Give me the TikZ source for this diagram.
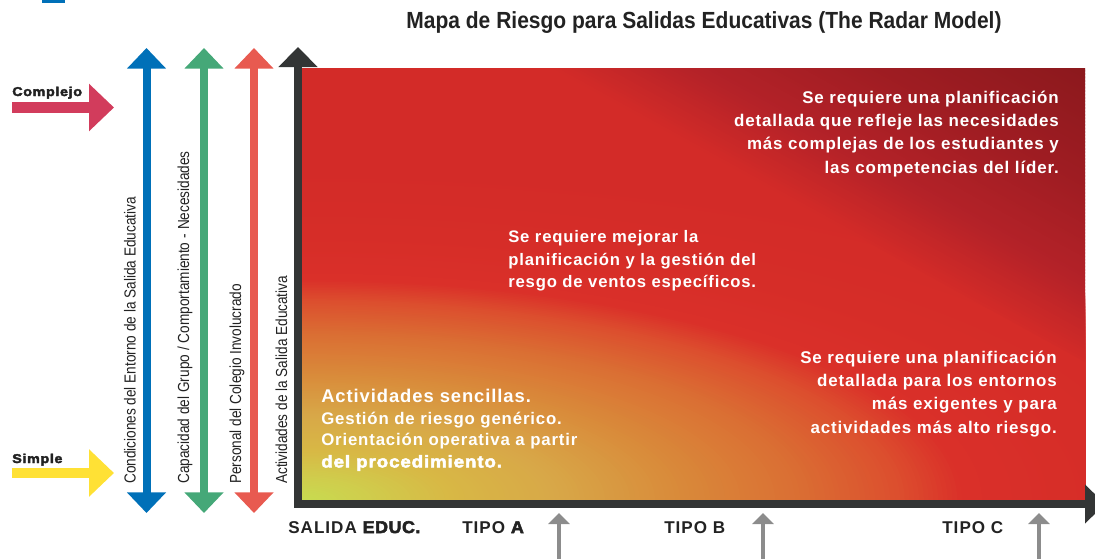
\documentclass[tikz,border=0pt]{standalone}
\usepackage{fontspec}
\setmainfont{Liberation Sans}
\newfontfamily\condfont{Liberation Sans}[FakeStretch=0.85]
\newfontfamily\titlefont{Liberation Sans Bold}[FakeStretch=0.9]
\newfontfamily\heavyfont{Liberation Sans Bold}[FakeBold=3, FakeStretch=1.12, LetterSpace=5]
\newfontfamily\wfont{Liberation Sans Bold}[LetterSpace=5]
\newfontfamily\lblfont{Liberation Sans Bold}[LetterSpace=6]
\newfontfamily\lblheavy{Liberation Sans Bold}[FakeBold=3, FakeStretch=1.05, LetterSpace=3]
\usetikzlibrary{arrows.meta}
\definecolor{cblue}{HTML}{0070B8}
\definecolor{cgreen}{HTML}{45A878}
\definecolor{cred}{HTML}{E85A50}
\definecolor{caxis}{HTML}{333535}
\definecolor{cpink}{HTML}{D23C5C}
\definecolor{cyellow}{HTML}{FFE135}
\definecolor{cgray}{HTML}{8C8C8C}
\definecolor{ctext}{HTML}{222222}
\definecolor{e0}{HTML}{C8DC50}
\definecolor{e1}{HTML}{D0CC4C}
\definecolor{e2}{HTML}{D8B845}
\definecolor{e3}{HTML}{D8A848}
\definecolor{e4}{HTML}{D98A3A}
\definecolor{e5}{HTML}{DA6E33}
\definecolor{e6}{HTML}{DC4E2E}
\definecolor{e7}{HTML}{DA3029}
\definecolor{e8}{HTML}{D62D28}
\definecolor{e9}{HTML}{D32B28}
\definecolor{k1}{HTML}{B42228}
\definecolor{k2}{HTML}{9E1C22}
\definecolor{k3}{HTML}{8C191D}
\begin{document}
\begin{tikzpicture}[x=0.75pt,y=-0.75pt,
  dbl/.style={line width=6pt, {Triangle[width=28.5pt,length=15.5pt]}-{Triangle[width=28.5pt,length=15.5pt]}},
  axisline/.style={caxis, line width=6pt, line join=miter, {Triangle[width=28.5pt,length=15pt]}-{Triangle[width=28.5pt,length=15pt]}},
  levelarrow/.style={-{Triangle[width=34.5pt,length=18.75pt]}},
  grayarrow/.style={cgray, line width=2.4pt, -{Triangle[width=15.75pt,length=8.25pt]}},
  wtext/.style={text=white, inner sep=0pt, font=\wfont\fontsize{12.7}{17.5}\selectfont},
  vlabel/.style={text=ctext, inner sep=0pt, rotate=90, anchor=west, font=\condfont\fontsize{12}{14}\selectfont},
  blabel/.style={text=ctext, inner sep=0pt, anchor=base west, font=\lblfont\fontsize{12.8}{14}\selectfont},
  lvl/.style={text=ctext, inner sep=0pt, anchor=base west, font=\heavyfont\fontsize{9.6}{12}\selectfont}]
\useasboundingbox (0,0) rectangle (1095,558);
% small blue mark at top
\fill[cblue] (42,-1) rectangle (65,2.5);
% title
\node[text=ctext, inner sep=0pt, anchor=base] (title) at (704,28.5) {\titlefont\fontsize{17.5}{19}\selectfont Mapa de Riesgo para Salidas Educativas (The Radar Model)};
% gradient field
\begin{scope}
\clip (302,68) rectangle (1085,500);
\fill[e9] (302,68) rectangle (1085,500);
% warm glow from the lower left corner (elliptical bands)
\foreach \ra/\ca/\rb/\cb in {1000/e9/800/e8, 800/e8/660/e7, 660/e7/598/e6, 598/e6/498/e5, 498/e5/378/e4, 378/e4/253/e3, 253/e3/148/e2, 148/e2/70/e1, 70/e1/0/e0}{
  \pgfmathtruncatemacro\nn{ceil((\ra-\rb)/5)}
  \foreach \i in {1,...,\nn}{
    \pgfmathsetmacro\pp{100-100*(\i-0.5)/\nn}
    \pgfmathsetmacro\rr{\ra-(\ra-\rb)*(\i-1)/\nn}
    \fill[\ca!\pp!\cb] (302,500) ellipse [x radius=\rr*0.75pt, y radius=\rr*0.75pt/3.0];
  }
}
% darker zone towards the upper right corner (bands parallel to the other diagonal)
\begin{scope}[shift={(302,500)}, x={(587.25pt,0pt)}, y={(0pt,324pt)}]
\foreach \ta/\ca/\tb/\cb in {1.32/e9/1.50/k1, 1.50/k1/1.74/k2, 1.74/k2/2.0/k3, 2.0/k3/2.2/k3}{
  \pgfmathtruncatemacro\nn{ceil((\tb-\ta)/0.008)}
  \foreach \i in {1,...,\nn}{
    \pgfmathsetmacro\pp{100-100*(\i-0.5)/\nn}
    \pgfmathsetmacro\cpa{\ta+(\tb-\ta)*(\i-1)/\nn}
    \pgfmathsetmacro\cpb{\ta+(\tb-\ta)*\i/\nn+0.004}
    \fill[\ca!\pp!\cb] (\cpa+1,-1) -- (-1,\cpa+1) -- (-1,\cpb+1) -- (\cpb+1,-1) -- cycle;
  }
}
\end{scope}
\end{scope}
% axes
\coordinate (ytop) at (298,47);
\coordinate (corner) at (298,504);
\coordinate (xend) at (1105,504);
\draw[axisline] (ytop) -- (corner) -- (xend);
% coloured double arrows
\coordinate (bt) at (146.5,48); \coordinate (bb) at (146.5,513);
\coordinate (gt) at (204,48);   \coordinate (gb) at (204,513);
\coordinate (rt) at (254,48);   \coordinate (rb) at (254,513);
\draw[dbl, cblue] (bt) -- (bb);
\draw[dbl, cgreen] (gt) -- (gb);
\draw[dbl, cred] (rt) -- (rb);
% level arrows
\coordinate (cs) at (12,107.5); \coordinate (ce) at (114,107.5);
\coordinate (ss) at (12,473);   \coordinate (se) at (114,473);
\draw[levelarrow, cpink, line width=8.25pt] (cs) -- (ce);
\draw[levelarrow, cyellow, line width=7.5pt] (ss) -- (se);
\node[lvl] (complejo) at (12,96) {Complejo};
\node[lvl] (simple) at (12,463) {Simple};
% vertical labels
\node[vlabel] (l1) at (130,484) {Condiciones del Entorno de la Salida Educativa};
\node[vlabel] (l2) at (185,484) {Capacidad\hspace{0.25em}del\hspace{0.25em}Grupo\hspace{0.25em}/\hspace{0.25em}Comportamiento\hspace{0.25em}-\hspace{0.25em}Necesidades};
\node[vlabel] (l3) at (237,484) {Personal del Colegio Involucrado};
\node[vlabel] (l4) at (281.5,484) {Actividades de la Salida Educativa};
% texts in the field
\node[wtext, anchor=north east, align=right] (tr) at (1059,90.5) {Se requiere una planificación\\detallada que refleje las necesidades\\más complejas de los estudiantes y\\las competencias del líder.};
\node[wtext, anchor=north west, align=left, font=\wfont\fontsize{12.5}{16.9}\selectfont] (mid) at (508,230.5) {Se requiere mejorar la\\planificación y la gestión del\\resgo de ventos específicos.};
\node[wtext, anchor=north east, align=right] (br) at (1057,350.5) {Se requiere una planificación\\detallada para los entornos\\más exigentes y para\\actividades más alto riesgo.};
\node[wtext, anchor=north west, align=left, font=\wfont\fontsize{12.6}{16.2}\selectfont] (bl) at (321,389) {{\fontsize{13.8}{16.2}\selectfont Actividades sencillas.}\\Gestión de riesgo genérico.\\Orientación operativa a partir\\{\heavyfont del procedimiento.}};
% bottom labels
\node[blabel] (salida) at (288,533) {SALIDA {\lblheavy EDUC.}};
\node[blabel] (tipoa) at (462,533) {TIPO {\lblheavy A}};
\node[blabel] (tipob) at (664,533) {TIPO B};
\node[blabel] (tipoc) at (942,533) {TIPO C};
% gray pointer arrows
\coordinate (a1s) at (559,560); \coordinate (a1e) at (559,513);
\coordinate (a2s) at (763,560); \coordinate (a2e) at (763,513);
\coordinate (a3s) at (1039,560); \coordinate (a3e) at (1039,513);
\draw[grayarrow] (a1s) -- (a1e);
\draw[grayarrow] (a2s) -- (a2e);
\draw[grayarrow] (a3s) -- (a3e);
\end{tikzpicture}
\end{document}
